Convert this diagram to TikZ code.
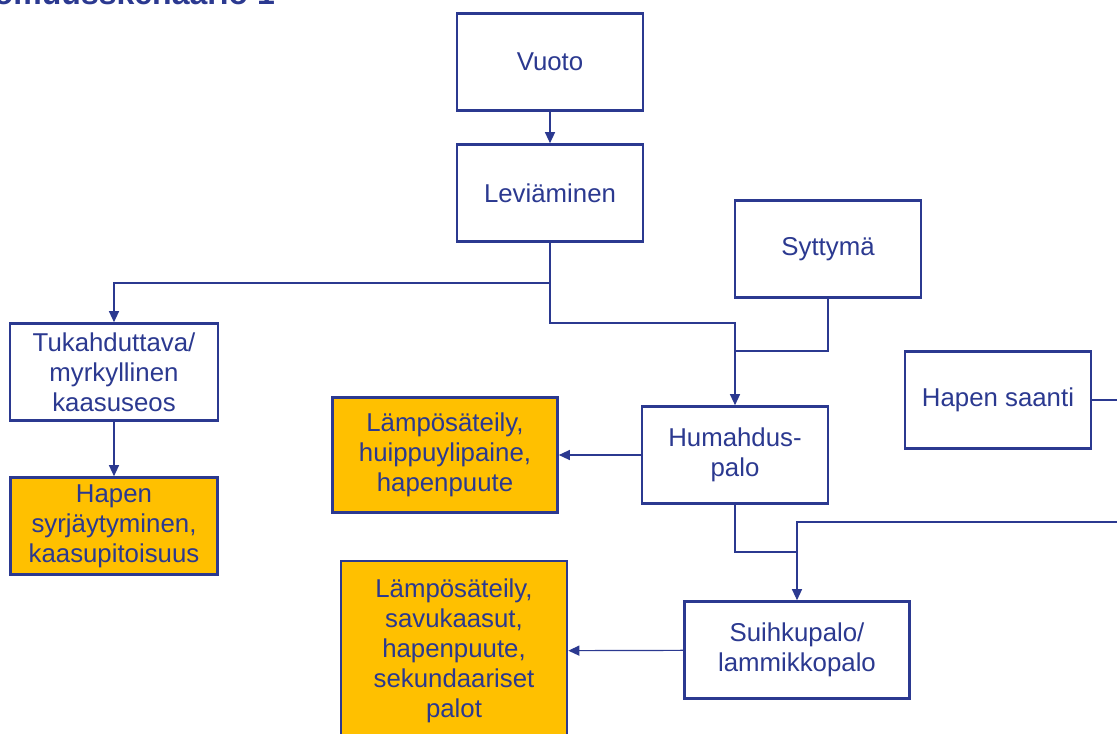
\documentclass[tikz,border=0pt]{standalone}
\usepackage{fontspec}
\setmainfont{Liberation Sans}
\usetikzlibrary{arrows.meta}
\definecolor{sininen}{HTML}{2B3990}
\definecolor{oranssi}{HTML}{FFC000}
\tikzset{
  laatikko/.style={draw=sininen, line width=1.3pt, fill=white, text=sininen,
    align=center, inner sep=0pt, minimum width=93pt, minimum height=48.5pt,
    font=\fontsize{12.9}{15}\selectfont},
  seuraus/.style={laatikko, fill=oranssi},
  viiva/.style={draw=sininen, line width=0.6pt},
  nuoli/.style={viiva, -{Triangle[length=5.5pt,width=5pt]}}
}
\begin{document}
\begin{tikzpicture}[x=0.5pt,y=-0.5pt]
  \useasboundingbox (0,0) rectangle (1117,733);
  % otsikko, leikkautuu ylareunassa
  \node[anchor=base east, text=sininen, font=\fontsize{16}{19}\selectfont\bfseries] (otsikko) at (282,5) {Onnettomuusskenaario 1};
  % tapahtumat
  \node[laatikko] (vuoto) at (550,62) {Vuoto};
  \node[laatikko] (levi) at (550,193) {Leviäminen};
  \node[laatikko] (sytt) at (828,249) {Syttymä};
  \node[laatikko, minimum width=104pt] (tukah) at (114,372) {Tukahduttava/\\myrkyllinen\\kaasuseos};
  \node[laatikko] (huma) at (735,455) {Humahdus-\\palo};
  \node[laatikko] (hapensaanti) at (998,400) {Hapen saanti};
  \node[laatikko, minimum width=112.5pt] (suihku) at (797,650) {Suihkupalo/\\lammikkopalo};
  % seuraukset
  \node[seuraus, minimum width=103.5pt] (hapensyr) at (114,526) {Hapen\\syrjäytyminen,\\kaasupitoisuus};
  \node[seuraus, minimum width=112.5pt, minimum height=57.5pt] (lampo1) at (445,455) {Lämpösäteily,\\huippuylipaine,\\hapenpuute};
  \node[seuraus, minimum width=113pt, minimum height=90pt] (lampo2) at (454,651) {Lämpösäteily,\\savukaasut,\\hapenpuute,\\sekundaariset\\palot};
  % liitokset
  \coordinate (haara) at (550,283);
  \coordinate (k1) at (735,323);
  \coordinate (k2) at (735,351);
  \coordinate (k3) at (797,552);
  \coordinate (reuna1) at (1117,400);
  \coordinate (reuna2) at (1117,522);
  \draw[nuoli] (vuoto) -- (levi);
  \draw[viiva] (levi) -- (haara);
  \draw[nuoli] (haara) -| (tukah);
  \draw[nuoli] (haara) |- (k1) -- (huma);
  \draw[viiva] (sytt) |- (k2);
  \draw[nuoli] (tukah) -- (hapensyr);
  \draw[nuoli] (huma) -- (lampo1);
  \draw[viiva] (hapensaanti) -- (reuna1);
  \draw[viiva] (huma) |- (k3);
  \draw[nuoli] (reuna2) -| (suihku);
  \draw[nuoli] (suihku) -- (lampo2);
\end{tikzpicture}
\end{document}
